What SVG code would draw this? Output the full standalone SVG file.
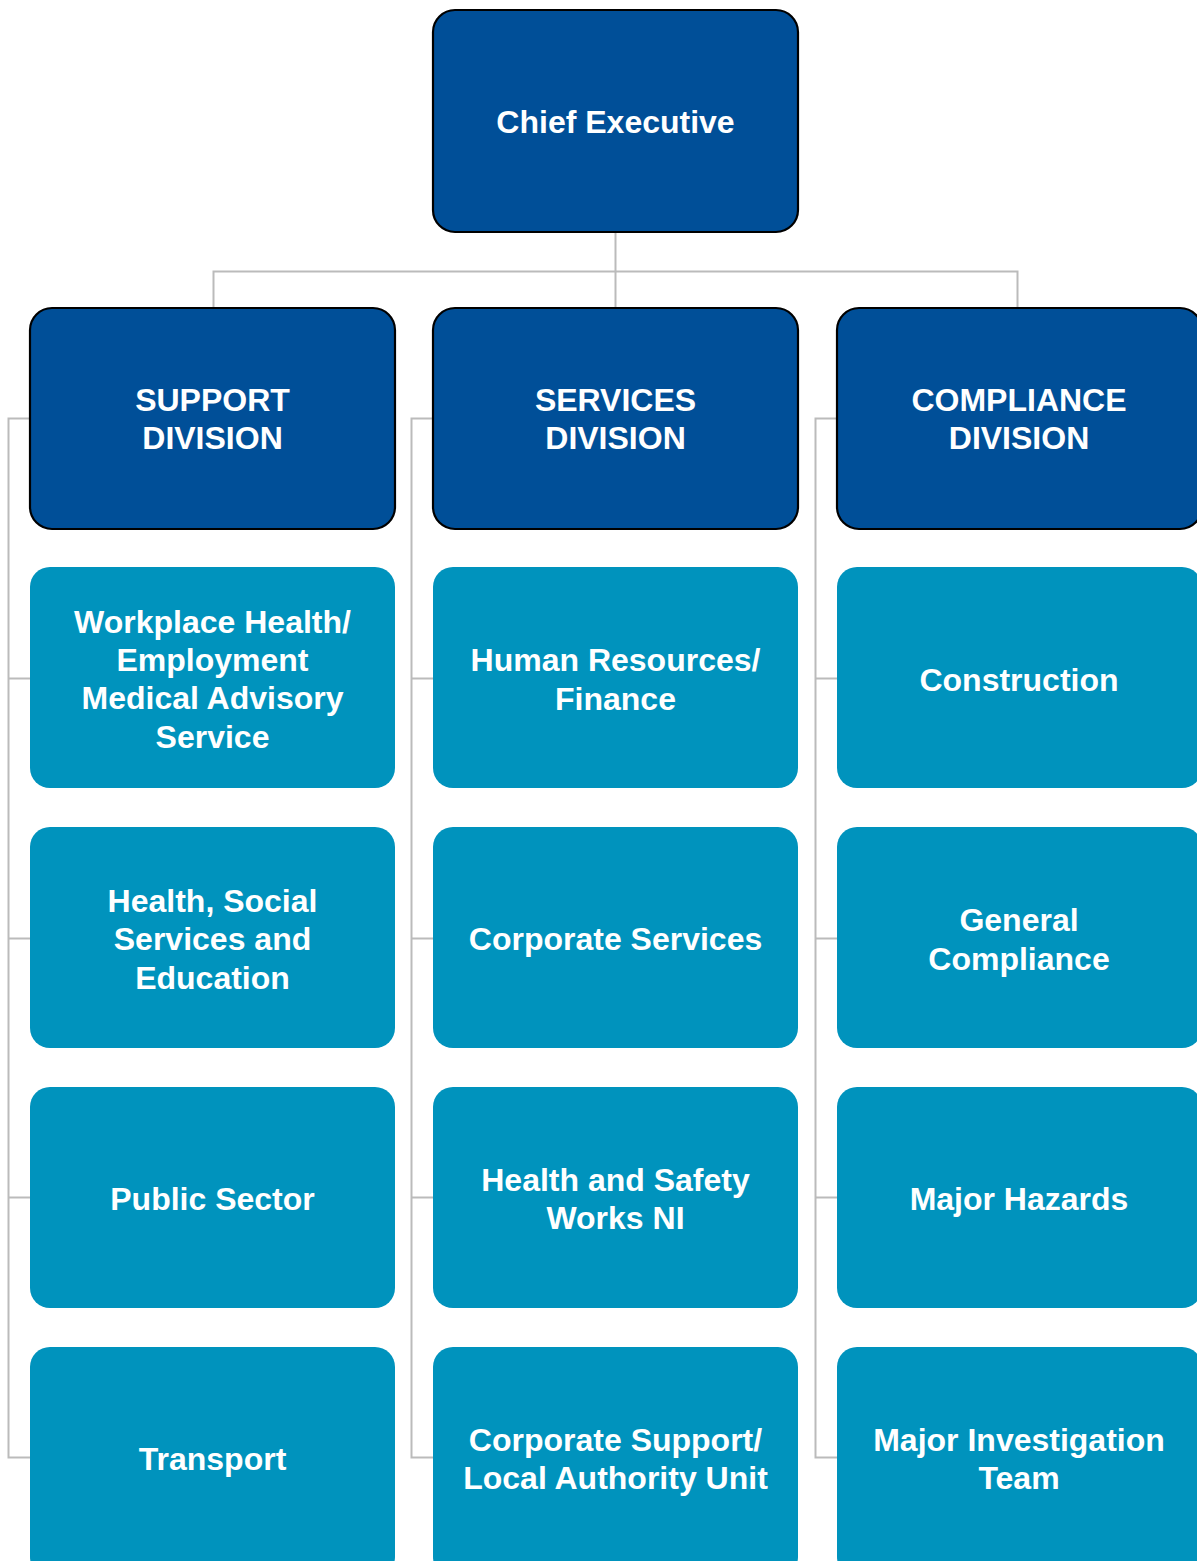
<svg xmlns="http://www.w3.org/2000/svg" width="1197" height="1561" viewBox="0 0 1197 1561">
<style>
.dark{fill:#004f98;stroke:#000;stroke-width:2.2}
.light{fill:#0093bd}
.t{font-family:"Liberation Sans",Arial,sans-serif;font-weight:bold;font-size:32px;fill:#fff;text-anchor:middle}
.c{fill:none;stroke:#bbbbbb;stroke-width:2}
</style>
<rect width="1197" height="1561" fill="#fff"/>
<g id="connectors">
<path class="c" d="M615.5 232V307M213.5 307V271.5H1017.5V307"/>
<path class="c" d="M30 418.5H8.5V1457.5H30M8.5 678.5H30M8.5 938.5H30M8.5 1197.5H30"/>
<path class="c" d="M433 418.5H411.5V1457.5H433M411.5 678.5H433M411.5 938.5H433M411.5 1197.5H433"/>
<path class="c" d="M837 418.5H815.5V1457.5H837M815.5 678.5H837M815.5 938.5H837M815.5 1197.5H837"/>
</g>
<g id="chief"><rect class="dark" x="433" y="10" width="365" height="222" rx="22"/><text class="t" x="615.5" y="133">Chief Executive</text></g>
<g id="support"><rect class="dark" x="30" y="308" width="365" height="221" rx="22"/><text class="t" x="212.5" y="411">SUPPORT</text><text class="t" x="212.5" y="449">DIVISION</text></g>
<g id="services"><rect class="dark" x="433" y="308" width="365" height="221" rx="22"/><text class="t" x="615.5" y="411">SERVICES</text><text class="t" x="615.5" y="449">DIVISION</text></g>
<g id="compliance"><rect class="dark" x="837" y="308" width="365" height="221" rx="22"/><text class="t" x="1019" y="411">COMPLIANCE</text><text class="t" x="1019" y="449">DIVISION</text></g>

<g id="workplace"><rect class="light" x="30" y="567" width="365" height="221" rx="20"/><text class="t" x="212.5" y="633">Workplace Health/</text><text class="t" x="212.5" y="671">Employment</text><text class="t" x="212.5" y="709">Medical Advisory</text><text class="t" x="212.5" y="748">Service</text></g>
<g id="hsse"><rect class="light" x="30" y="827" width="365" height="221" rx="20"/><text class="t" x="212.5" y="912">Health, Social</text><text class="t" x="212.5" y="950">Services and</text><text class="t" x="212.5" y="989">Education</text></g>
<g id="public"><rect class="light" x="30" y="1087" width="365" height="221" rx="20"/><text class="t" x="212.5" y="1210">Public Sector</text></g>
<g id="transport"><rect class="light" x="30" y="1347" width="365" height="230" rx="20"/><text class="t" x="212.5" y="1470">Transport</text></g>

<g id="hr"><rect class="light" x="433" y="567" width="365" height="221" rx="20"/><text class="t" x="615.5" y="671">Human Resources/</text><text class="t" x="615.5" y="710">Finance</text></g>
<g id="corp"><rect class="light" x="433" y="827" width="365" height="221" rx="20"/><text class="t" x="615.5" y="950">Corporate Services</text></g>
<g id="hswni"><rect class="light" x="433" y="1087" width="365" height="221" rx="20"/><text class="t" x="615.5" y="1191">Health and Safety</text><text class="t" x="615.5" y="1229">Works NI</text></g>
<g id="csla"><rect class="light" x="433" y="1347" width="365" height="230" rx="20"/><text class="t" x="615.5" y="1451">Corporate Support/</text><text class="t" x="615.5" y="1489">Local Authority Unit</text></g>

<g id="construction"><rect class="light" x="837" y="567" width="365" height="221" rx="20"/><text class="t" x="1019" y="691">Construction</text></g>
<g id="general"><rect class="light" x="837" y="827" width="365" height="221" rx="20"/><text class="t" x="1019" y="931">General</text><text class="t" x="1019" y="970">Compliance</text></g>
<g id="hazards"><rect class="light" x="837" y="1087" width="365" height="221" rx="20"/><text class="t" x="1019" y="1210">Major Hazards</text></g>
<g id="mit"><rect class="light" x="837" y="1347" width="365" height="230" rx="20"/><text class="t" x="1019" y="1451">Major Investigation</text><text class="t" x="1019" y="1489">Team</text></g>
</svg>
